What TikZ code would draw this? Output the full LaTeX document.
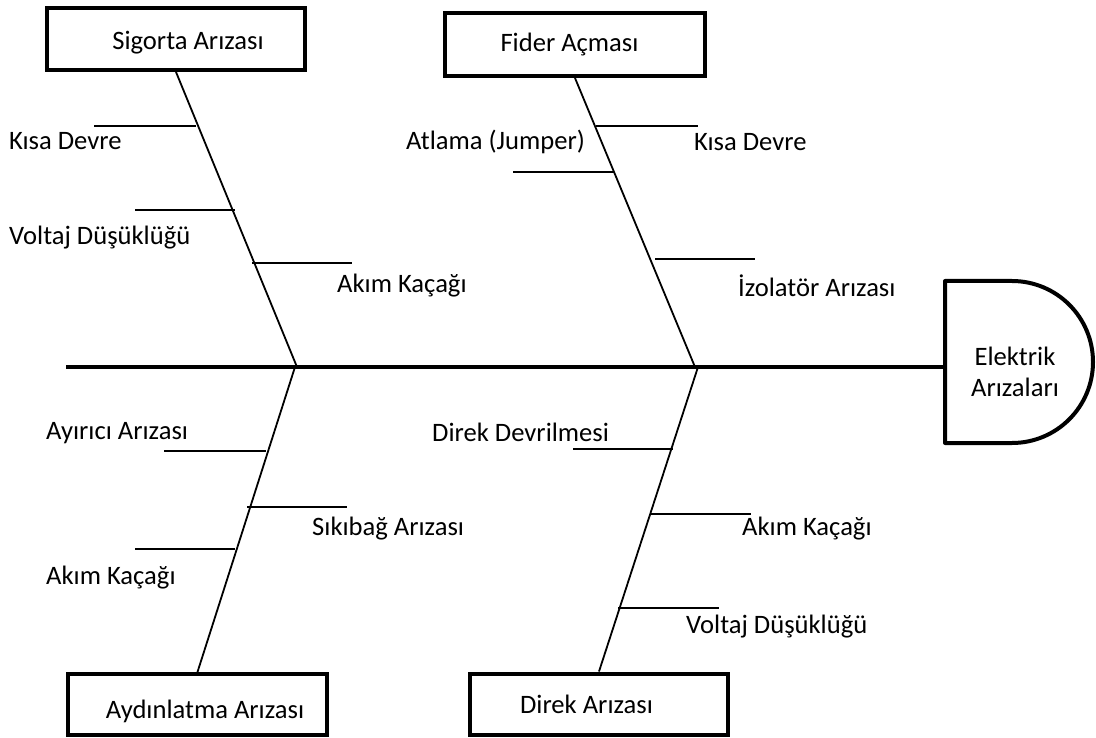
\documentclass[tikz,border=0pt]{standalone}
\usepackage{fontspec}
\setmainfont{Carlito}
\newcommand{\fs}{\fontsize{26.6}{31}\selectfont}
\begin{document}
\begin{tikzpicture}[x=1pt,y=-1pt,
  box/.style={draw,line width=4pt,minimum width=258pt,minimum height=62pt,inner sep=0pt,font=\fs},
  lbl/.style={anchor=west,inner sep=0pt,font=\fs},
  bone/.style={line width=1.6pt},
  spine/.style={line width=1.8pt},
  mainline/.style={line width=4pt}]
\useasboundingbox (0,0) rectangle (1096,738);

% cause boxes
\node[box,text height=28pt,text depth=6pt] (sig) at (176,39) {\hspace*{24pt}Sigorta Arızası};
\node[box,minimum width=260pt,minimum height=63pt] (fid) at (575,44.5) {Fider Açması\hspace*{11pt}};
\node[box,minimum width=259pt,minimum height=61pt,text height=33pt,text depth=6pt] (ayd) at (197.5,704.5) {\hspace*{15pt}Aydınlatma Arızası};
\node[box,minimum height=61pt] (dir) at (599,704) {Direk Arızası\hspace*{25pt}};

% head
\coordinate (dwest) at (945,367);
\draw[line width=4pt,line join=round] (1012,281) -- (945,281) -- (945,443) -- (1012,443)
  arc[start angle=-90,end angle=90,radius=81pt] -- cycle;
\node[font=\fs,align=center,inner sep=0pt] (head) at (1015,372) {Elektrik\\Arızaları};

% spine junctions
\coordinate (m0) at (66,367);
\coordinate (j1) at (297,367);
\coordinate (j2) at (695,367);
\coordinate (j3) at (295,367);
\coordinate (j4) at (698,367);

\draw[spine] (sig.south) -- (j1);
\draw[spine] (fid.south) -- (j2);
\draw[spine] (j3) -- (ayd.north);
\draw[spine] (j4) -- (dir.north);
\draw[mainline] (m0) -- (dwest);

% Sigorta branches
\coordinate (a1) at (94,126);  \coordinate (a2) at (196,126);
\coordinate (b1) at (135,210); \coordinate (b2) at (235,210);
\coordinate (c1) at (252,263); \coordinate (c2) at (352,263);
\draw[bone] (a1) -- (a2);
\draw[bone] (b1) -- (b2);
\draw[bone] (c1) -- (c2);
\node[lbl] (t1) at (9,141) {Kısa Devre};
\node[lbl] (t2) at (9,238) {Voltaj Düşüklüğü};
\node[lbl] (t3) at (337,286) {Akım Kaçağı};

% Fider branches
\coordinate (d1) at (596,126); \coordinate (d2) at (698,126);
\coordinate (e1) at (513,172); \coordinate (e2) at (614,172);
\coordinate (f1) at (655,259); \coordinate (f2) at (755,259);
\draw[bone] (d1) -- (d2);
\draw[bone] (e1) -- (e2);
\draw[bone] (f1) -- (f2);
\node[lbl] (t4) at (694,142) {Kısa Devre};
\node[lbl] (t5) at (406,142) {Atlama (Jumper)};
\node[lbl] (t6) at (738,286) {İzolatör Arızası};

% Aydinlatma branches
\coordinate (g1) at (164,451); \coordinate (g2) at (266,451);
\coordinate (h1) at (247,507); \coordinate (h2) at (347,507);
\coordinate (i1) at (135,549); \coordinate (i2) at (235,549);
\draw[bone] (g1) -- (g2);
\draw[bone] (h1) -- (h2);
\draw[bone] (i1) -- (i2);
\node[lbl] (t7) at (46,433) {Ayırıcı Arızası};
\node[lbl] (t8) at (312,529) {Sıkıbağ Arızası};
\node[lbl] (t9) at (46,578) {Akım Kaçağı};

% Direk branches
\coordinate (k1) at (573,449); \coordinate (k2) at (673,449);
\coordinate (l1) at (650,514); \coordinate (l2) at (751,514);
\coordinate (n1) at (618,608); \coordinate (n2) at (719,608);
\draw[bone] (k1) -- (k2);
\draw[bone] (l1) -- (l2);
\draw[bone] (n1) -- (n2);
\node[lbl] (t10) at (432,432) {Direk Devrilmesi};
\node[lbl] (t11) at (742,529) {Akım Kaçağı};
\node[lbl] (t12) at (686,627) {Voltaj Düşüklüğü};
\end{tikzpicture}
\end{document}
